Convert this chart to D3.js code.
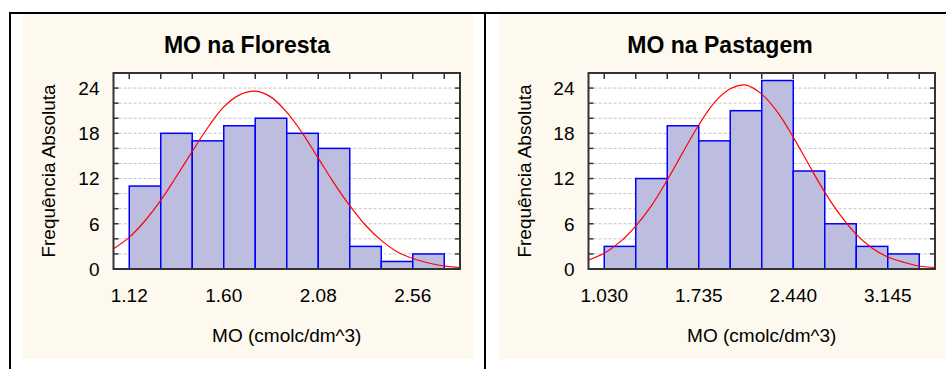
<!DOCTYPE html>
<html>
<head>
<meta charset="utf-8">
<script src="https://cdn.jsdelivr.net/npm/d3@7"></script>
<style>
  body { margin: 0; background: #fff; }
  svg { display: block; font-family: "Liberation Sans", Arial, sans-serif; }
</style>
</head>
<body>
<svg id="chart" width="946" height="369"></svg>
<script>
// Floresta histogram
const florestaEdges = [1.12, 1.28, 1.44, 1.60, 1.76, 1.92, 2.08, 2.24, 2.40, 2.56, 2.72];
const florestaCounts = [11, 18, 17, 19, 20, 18, 16, 3, 1, 2];
const florestaTicks = ["1.12", "1.60", "2.08", "2.56"];
// fitted normal curve
const florestaCurveX = [1.04, 1.12, 1.20, 1.28, 1.36, 1.44, 1.52, 1.60, 1.68, 1.76, 1.84, 1.92,
  2.00, 2.08, 2.16, 2.24, 2.32, 2.40, 2.48, 2.56, 2.64, 2.72, 2.80];
const florestaCurveY = [2.7, 4.2, 6.4, 9.1, 12.3, 15.6, 18.8, 21.5, 23.1, 23.6, 22.8, 20.8,
  18.0, 14.7, 11.4, 8.4, 5.8, 3.8, 2.3, 1.4, 0.8, 0.4, 0.2];

// Pastagem histogram
const pastagemEdges = [1.030, 1.265, 1.500, 1.735, 1.970, 2.205, 2.440, 2.675, 2.910, 3.145, 3.380];
const pastagemCounts = [3, 12, 19, 17, 21, 25, 13, 6, 3, 2];
const pastagemTicks = ["1.030", "1.735", "2.440", "3.145"];
const pastagemCurveX = [0.9125, 1.030, 1.1475, 1.265, 1.3825, 1.500, 1.6175, 1.735, 1.8525, 1.970,
  2.0875, 2.205, 2.3225, 2.440, 2.5575, 2.675, 2.7925, 2.910, 3.0275, 3.145, 3.2625, 3.380, 3.4975];
const pastagemCurveY = [1.2, 2.1, 3.6, 5.7, 8.4, 11.8, 15.5, 19.1, 22.1, 23.9, 24.4, 23.2,
  20.8, 17.5, 13.8, 10.2, 7.1, 4.6, 2.8, 1.6, 0.9, 0.4, 0.2];

const yTicks = [0, 6, 12, 18, 24];

const svg = d3.select("#chart");

// outer border lines
svg.append("rect").attr("x", 23).attr("y", 14).attr("width", 450).attr("height", 345).attr("fill", "#fdf9ee");
svg.append("rect").attr("x", 499).attr("y", 14).attr("width", 447).attr("height", 345).attr("fill", "#fdf9ee");
svg.append("line").attr("x1", 9).attr("x2", 946).attr("y1", 13).attr("y2", 13).attr("stroke", "#000").attr("stroke-width", 2);
svg.append("line").attr("x1", 10).attr("x2", 10).attr("y1", 12).attr("y2", 369).attr("stroke", "#000").attr("stroke-width", 2);
svg.append("line").attr("x1", 485).attr("x2", 485).attr("y1", 12).attr("y2", 369).attr("stroke", "#000").attr("stroke-width", 2);

function drawPanel(cfg) {
    const { edges, counts, ticks, curveX, curveY, title, left, right, panelCenter, labelX } = cfg;
    const top = 73, bottom = 269;
    const half = (edges[1] - edges[0]) / 2;

    const x = d3.scaleLinear().domain([edges[0] - half, edges[edges.length - 1] + half]).range([left, right]);
    const y = d3.scaleLinear().domain([0, 26]).range([bottom, top]);

    const g = svg.append("g");

    g.append("rect").attr("x", left).attr("y", top).attr("width", right - left).attr("height", bottom - top).attr("fill", "#fff");

    // dashed gridlines every 2
    const grid = d3.range(2, 26, 2);
    g.selectAll(".grid").data(grid).enter().append("line")
        .attr("x1", left + 5).attr("x2", right - 5)
        .attr("y1", d => y(d)).attr("y2", d => y(d))
        .attr("stroke", "#c4c4c4").attr("stroke-dasharray", "3,2").attr("stroke-width", 1);

    // bars
    g.selectAll(".bar").data(counts).enter().append("rect")
        .attr("x", (d, i) => x(edges[i]))
        .attr("y", d => y(d))
        .attr("width", (d, i) => x(edges[i + 1]) - x(edges[i]))
        .attr("height", d => y(0) - y(d))
        .attr("fill", "#bdbde0")
        .attr("stroke", "#0000ff").attr("stroke-width", 1.5);

    // normal curve
    const line = d3.line().x(d => x(d[0])).y(d => y(d[1])).curve(d3.curveCatmullRom);
    g.append("path").datum(curveX.map((v, i) => [v, curveY[i]]))
        .attr("d", line).attr("fill", "none").attr("stroke", "#ff0000").attr("stroke-width", 1.2);

    // ticks: left/right every 2, top/bottom at bin edges
    const yt = d3.range(0, 27, 2);
    g.selectAll(".lt").data(yt).enter().append("line")
        .attr("x1", left).attr("x2", left + 5).attr("y1", d => y(d)).attr("y2", d => y(d))
        .attr("stroke", "#333").attr("stroke-width", 1.5);
    g.selectAll(".rt").data(yt).enter().append("line")
        .attr("x1", right - 5).attr("x2", right).attr("y1", d => y(d)).attr("y2", d => y(d))
        .attr("stroke", "#333").attr("stroke-width", 1.5);
    g.selectAll(".tt").data(edges).enter().append("line")
        .attr("x1", d => x(d)).attr("x2", d => x(d)).attr("y1", top).attr("y2", top + 6)
        .attr("stroke", "#333").attr("stroke-width", 1.5);

    // frame
    g.append("rect").attr("x", left).attr("y", top).attr("width", right - left).attr("height", bottom - top)
        .attr("fill", "none").attr("stroke", "#333").attr("stroke-width", 2);

    // y tick labels
    g.selectAll(".yl").data(yTicks).enter().append("text")
        .attr("x", left - 14).attr("y", d => y(d)).attr("dy", "0.36em")
        .attr("text-anchor", "end").attr("font-size", 19).attr("fill", "#000")
        .text(d => d);

    // x tick labels
    g.selectAll(".xl").data(ticks).enter().append("text")
        .attr("x", d => x(+d)).attr("y", 302)
        .attr("text-anchor", "middle").attr("font-size", 19).attr("fill", "#000")
        .text(d => d);

    g.append("text").attr("x", panelCenter).attr("y", 53)
        .attr("text-anchor", "middle").attr("font-size", 23).attr("font-weight", "bold")
        .text(title);

    g.append("text").attr("x", (left + right) / 2).attr("y", 342)
        .attr("text-anchor", "middle").attr("font-size", 19)
        .text("MO (cmolc/dm^3)");

    g.append("text").attr("transform", `translate(${labelX},${(top + bottom) / 2}) rotate(-90)`)
        .attr("dy", "0.35em")
        .attr("text-anchor", "middle").attr("font-size", 19)
        .text("Frequência Absoluta");
}

drawPanel({
    edges: florestaEdges, counts: florestaCounts, ticks: florestaTicks,
    curveX: florestaCurveX, curveY: florestaCurveY,
    title: "MO na Floresta", left: 113.5, right: 460, panelCenter: 247, labelX: 48
});
drawPanel({
    edges: pastagemEdges, counts: pastagemCounts, ticks: pastagemTicks,
    curveX: pastagemCurveX, curveY: pastagemCurveY,
    title: "MO na Pastagem", left: 588.5, right: 935, panelCenter: 720, labelX: 524
});
</script>
</body>
</html>
